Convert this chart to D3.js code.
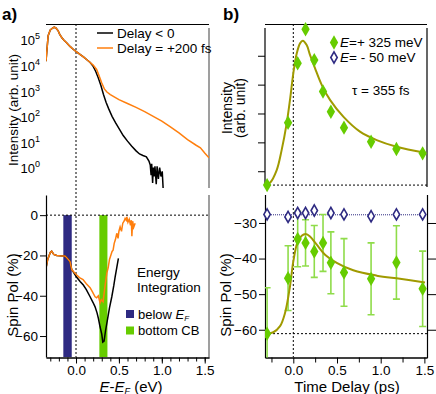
<!DOCTYPE html>
<html>
<head>
<meta charset="utf-8">
<script src="https://cdn.jsdelivr.net/npm/d3@7"></script>
<style>
  body { margin: 0; background: #fff; }
  svg { display: block; font-family: "Liberation Sans", Arial, sans-serif; }
</style>
</head>
<body>
<div id="chart"></div>
<script>
// ---- panel a) top: intensity (log10 of counts) vs E-EF (eV)
const energyNeg = [-0.35, -0.34, -0.325, -0.3, -0.28, -0.255, -0.235, -0.21, -0.19, -0.165, -0.14, -0.11, -0.07, -0.03, 0.01, 0.05, 0.09, 0.13, 0.165,
  0.2, 0.23, 0.26, 0.29, 0.32, 0.35, 0.38, 0.42, 0.46, 0.5, 0.55, 0.6, 0.65, 0.7, 0.74, 0.78, 0.82, 0.85,
  0.865, 0.875, 0.882, 0.893, 0.9, 0.91, 0.92, 0.935, 0.945, 0.96, 0.975, 0.99, 1.005, 1.015];
const logIntNeg = [4.2, 4.6, 5.2, 5.42, 5.48, 5.53, 5.5, 5.4, 5.25, 5.12, 5.02, 4.92, 4.78, 4.66, 4.56, 4.46, 4.36, 4.25, 4.15,
  4.0, 3.8, 3.55, 3.25, 2.9, 2.6, 2.35, 2.05, 1.8, 1.58, 1.3, 1.08, 0.88, 0.7, 0.58, 0.52, 0.47, 0.3,
  0.15, -0.25, 0.2, -0.55, 0.05, -0.3, 0.1, -0.6, 0.1, -0.4, 0.05, -0.3, -0.1, -0.75];
const energyPos = [-0.35, -0.34, -0.325, -0.3, -0.28, -0.255, -0.235, -0.21, -0.19, -0.165, -0.14, -0.11, -0.07, -0.03, 0.01, 0.05, 0.09, 0.13, 0.165,
  0.2, 0.24, 0.27, 0.3, 0.33, 0.36, 0.4, 0.45, 0.5, 0.6, 0.7, 0.8, 0.9, 1.0, 1.1, 1.2, 1.3, 1.4, 1.45, 1.5, 1.55];
const logIntPos = [4.2, 4.6, 5.2, 5.42, 5.48, 5.53, 5.5, 5.4, 5.25, 5.12, 5.02, 4.92, 4.78, 4.66, 4.56, 4.46, 4.36, 4.25, 4.15,
  4.05, 3.88, 3.62, 3.35, 3.12, 3.0, 2.9, 2.8, 2.7, 2.55, 2.4, 2.23, 2.05, 1.86, 1.64, 1.4, 1.14, 0.92, 0.82, 0.62, 0.43];

// ---- panel a) bottom: spin polarization (%) vs E-EF
const energySpinNeg = [-0.35, -0.33, -0.3, -0.284, -0.26, -0.225, -0.19, -0.16, -0.128, -0.1, -0.07, -0.05, -0.02, 0.008, 0.05, 0.085, 0.12, 0.164,
  0.2, 0.222, 0.245, 0.261, 0.28, 0.3, 0.312, 0.327, 0.345, 0.359, 0.39, 0.417, 0.44, 0.456, 0.475, 0.494];
const spinNeg = [-26.3, -22, -18.5, -17.9, -19.5, -20, -20.2, -20.3, -20.3, -21.5, -23, -27, -29, -30.8, -33, -34.7, -37, -40.5,
  -43.5, -45.5, -48.5, -51.3, -55.4, -59, -63, -62.5, -57, -53.7, -46, -40.5, -35, -30.6, -26, -21.5];
const energySpinPos = [-0.35, -0.33, -0.3, -0.284, -0.26, -0.225, -0.19, -0.16, -0.128, -0.1, -0.07, -0.05, -0.02, 0.008, 0.04, 0.082, 0.12, 0.164,
  0.19, 0.222, 0.24, 0.26, 0.28, 0.295, 0.315, 0.33, 0.345, 0.359, 0.375, 0.39, 0.405, 0.42, 0.432, 0.445, 0.46, 0.475, 0.49, 0.5,
  0.514, 0.53, 0.545, 0.56, 0.572, 0.585, 0.592, 0.605, 0.62, 0.635, 0.645, 0.651, 0.66, 0.672, 0.689];
const spinPos = [-26.3, -22, -18.5, -17.9, -19.5, -20, -20.2, -20.3, -20.3, -21.5, -23, -27, -28.5, -29.7, -31, -32, -34, -36,
  -38, -40.5, -41, -40, -43.5, -42, -43, -38, -33, -28.8, -26, -22, -20, -18, -17.4, -14, -12, -9, -11.5, -8,
  -5.8, -8, -4, -3, -1.6, -2.5, -0.8, -3.5, -2, -5, -2.5, -10.5, -3, -6, -4];
// energy integration windows (eV)
const bandBelowEF = [-0.148, -0.05];
const bandBottomCB = [0.272, 0.366];

// ---- panel b): time delay (ps)
const delayCB = [-0.30, -0.06, 0.05, 0.14, 0.24, 0.34, 0.43, 0.58, 0.89, 1.18, 1.48];
const intensityCB = [0.52, 2.68, 4.74, 5.92, 4.85, 3.76, 3.06, 2.51, 2.02, 1.77, 1.62];
const spinCB = [-61.1, -45.5, -34.5, -35.6, -38.0, -35.6, -41.2, -43.9, -45.7, -41.1, -48.5];
const spinCBErr = [12.9, 9.1, 7.8, 6.5, 7.3, 8.0, 8.7, 9.5, 10.1, 10.3, 10.6];
const delayVB = [-0.30, -0.06, 0.05, 0.14, 0.24, 0.43, 0.58, 0.89, 1.18, 1.48];
const spinVB = [-27.6, -28.3, -27.2, -27.2, -26.5, -27.2, -27.6, -28.1, -27.6, -27.6];
const spinVBLevel = -27.7;
const fitDelay = [-0.324, -0.267, -0.19, -0.133, -0.076, -0.038, 0, 0.039, 0.077, 0.108, 0.153, 0.191, 0.248, 0.325, 0.42, 0.572, 0.763, 0.954, 1.183, 1.507];
const fitIntensity = [0.52, 0.60, 1.04, 1.74, 2.66, 3.47, 4.39, 5.08, 5.43, 5.52, 5.37, 5.03, 4.57, 3.99, 3.47, 2.89, 2.37, 2.08, 1.85, 1.64];
const fitSpinDelay = [-0.324, -0.229, -0.152, -0.095, -0.038, 0, 0.046, 0.096, 0.142, 0.191, 0.268, 0.363, 0.497, 0.686, 0.954, 1.221, 1.507];
const fitSpin = [-61.1, -60.7, -59.0, -55.3, -47.8, -40.8, -35.6, -33.6, -33.1, -33.8, -36.1, -38.9, -41.2, -43.3, -44.8, -45.7, -46.7];
const intensityBase = 0.52;
const spinBase = -61.1;

// ---- tick values
const energyTicks = [0, 0.5, 1.0, 1.5];
const logTicks = [0, 1, 2, 3, 4, 5];
const spinTicksA = [0, -20, -40, -60];
const delayTicks = [0, 0.5, 1.0, 1.5];
const delayMinor = [-0.25, 0.25, 0.75, 1.25];
const intensityTicks = [1, 2, 3, 4, 5];
const spinTicksB = [-30, -40, -50, -60];

const W = 436, H = 394;
const C = {
  orange: "#ff7f0e", navy: "#2e2a82", green: "#66cc00", olive: "#a09a00",
  errGreen: "#8fdc4a", grey: "#7f7f7f"
};
const fontTick = 13.5, fontLabel = 15, fontLegend = 13.5;

const svg = d3.select("#chart").append("svg").attr("width", W).attr("height", H);

// Scales
const xE = d3.scaleLinear().domain([-0.35, 1.55]).range([46, 209]);
const yLog = d3.scaleLog().domain([Math.pow(10, -0.75), Math.pow(10, 5.55)]).range([188, 26.7]);
const ySpinA = d3.scaleLinear().domain([-70.4, 10]).range([357, 195]);
const xT = d3.scaleLinear().domain([-0.324, 1.53]).range([265, 427]);
const yInt = d3.scaleLinear().domain([0.35, 6.1]).range([190, 24]);
const ySpinB = d3.scaleLinear().domain([-67.8, -22]).range([357.5, 194.5]);

function hline(g, x1, x2, y, stroke, dash, w) {
  g.append("line").attr("x1", x1).attr("x2", x2).attr("y1", y).attr("y2", y)
    .attr("stroke", stroke).attr("stroke-width", w || 1).attr("stroke-dasharray", dash || null);
}
function vline(g, x, y1, y2, stroke, dash, w) {
  g.append("line").attr("x1", x).attr("x2", x).attr("y1", y1).attr("y2", y2)
    .attr("stroke", stroke).attr("stroke-width", w || 1).attr("stroke-dasharray", dash || null);
}
function styleAxis(sel) {
  sel.selectAll("text").attr("font-size", fontTick).attr("fill", "#000")
    .style("font-family", '"Liberation Sans", Arial, sans-serif');
  sel.selectAll("line").attr("stroke", "#000");
  sel.select(".domain").attr("stroke", "#000");
}

// Clip paths
const defs = svg.append("defs");
defs.append("clipPath").attr("id", "clipAT").append("rect").attr("x", 46).attr("y", 24).attr("width", 163).attr("height", 164);
defs.append("clipPath").attr("id", "clipAB").append("rect").attr("x", 46).attr("y", 195).attr("width", 163).attr("height", 162);
defs.append("clipPath").attr("id", "clipBB").append("rect").attr("x", 265).attr("y", 194.5).attr("width", 162).attr("height", 163);

// ================= Panel a) =================
const pa = svg.append("g");

// frame lines
hline(pa, 46, 209, 24.5, "#000", null, 1.2);
vline(pa, 209, 28, 188, C.grey, null, 1.5);
vline(pa, 209, 195, 357.5, C.grey, null, 1.5);
vline(pa, 76, 24, 357, "#000", "2,2", 1);

// top: log intensity
const lineTop = d3.line().x((d) => xE(d[0])).y((d) => yLog(Math.pow(10, d[1])));
const gTop = pa.append("g").attr("clip-path", "url(#clipAT)");
gTop.append("path").datum(d3.zip(energyNeg, logIntNeg)).attr("d", lineTop)
  .attr("fill", "none").attr("stroke", "#000").attr("stroke-width", 1.5);
gTop.append("path").datum(d3.zip(energyPos, logIntPos)).attr("d", lineTop)
  .attr("fill", "none").attr("stroke", C.orange).attr("stroke-width", 1.5);

logTicks.forEach((p) => {
  const t = pa.append("text").attr("x", 40).attr("y", yLog(Math.pow(10, p)))
    .attr("dy", "0.35em").attr("text-anchor", "end").attr("font-size", 13);
  t.append("tspan").text("10");
  t.append("tspan").attr("font-size", 9).attr("dy", -6).text(p);
});
pa.append("text").attr("transform", "translate(13,110) rotate(-90)")
  .attr("text-anchor", "middle").attr("dy", "0.35em").attr("font-size", fontLabel - 1.5)
  .text("Intensity (arb. unit)");

// legend top-left
const legA = [{ label: "Delay < 0", color: "#000" }, { label: "Delay = +200 fs", color: C.orange }];
legA.forEach((d, i) => {
  const y = 33 + i * 15;
  hline(pa, 97, 113, y, d.color, null, 1.5);
  pa.append("text").attr("x", 117).attr("y", y).attr("dy", "0.35em")
    .attr("font-size", fontLegend).text(d.label);
});

// bottom: spin polarization
const gBot = pa.append("g").attr("clip-path", "url(#clipAB)");
[[bandBelowEF, C.navy], [bandBottomCB, C.green]].forEach(([b, col]) => {
  gBot.append("rect").attr("x", xE(b[0])).attr("width", xE(b[1]) - xE(b[0]))
    .attr("y", ySpinA(0)).attr("height", ySpinA(-70.4) - ySpinA(0)).attr("fill", col);
});
hline(pa, 46, 209, ySpinA(0), "#000", "2,2", 1);
const lineSpinA = d3.line().x((d) => xE(d[0])).y((d) => ySpinA(d[1]));
gBot.append("path").datum(d3.zip(energySpinNeg, spinNeg)).attr("d", lineSpinA)
  .attr("fill", "none").attr("stroke", "#000").attr("stroke-width", 1.5);
gBot.append("path").datum(d3.zip(energySpinPos, spinPos)).attr("d", lineSpinA)
  .attr("fill", "none").attr("stroke", C.orange).attr("stroke-width", 1.5);

const axSpinA = pa.append("g").attr("transform", "translate(46,0)")
  .call(d3.axisLeft(ySpinA).tickValues(spinTicksA).tickSize(6).tickPadding(2).tickSizeOuter(0));
styleAxis(axSpinA);
axSpinA.select(".domain").attr("stroke-width", 1.2);

const axEMinor = pa.append("g").attr("transform", "translate(0,357.5)")
  .call(d3.axisBottom(xE).tickValues(d3.range(-3, 16).map((i) => i / 10)).tickSize(4).tickFormat("").tickSizeOuter(0));
styleAxis(axEMinor);
const axE = pa.append("g").attr("transform", "translate(0,357.5)")
  .call(d3.axisBottom(xE).tickValues(energyTicks).tickSize(6).tickPadding(2).tickFormat(d3.format(".1f")).tickSizeOuter(0));
styleAxis(axE);
axE.select(".domain").attr("stroke-width", 1.2);

const xl = pa.append("text").attr("x", 131).attr("y", 391.5).attr("text-anchor", "middle").attr("font-size", fontLabel);
xl.append("tspan").attr("font-style", "italic").text("E");
xl.append("tspan").text("-");
xl.append("tspan").attr("font-style", "italic").text("E");
xl.append("tspan").attr("font-style", "italic").attr("font-size", 9).attr("dy", 2).text("F");
xl.append("tspan").attr("dy", -2).text(" (eV)");

pa.append("text").attr("transform", "translate(13,295) rotate(-90)")
  .attr("text-anchor", "middle").attr("dy", "0.35em").attr("font-size", fontLabel).text("Spin Pol (%)");

// energy integration legend
pa.append("text").attr("x", 137).attr("y", 272).attr("dy", "0.35em").attr("font-size", fontLegend).text("Energy");
pa.append("text").attr("x", 137).attr("y", 287).attr("dy", "0.35em").attr("font-size", fontLegend).text("Integration");
[{ c: C.navy, y: 314, label: "below " }, { c: C.green, y: 330.5, label: "bottom CB" }].forEach((d, i) => {
  pa.append("rect").attr("x", 126).attr("y", d.y - 4).attr("width", 8).attr("height", 8).attr("fill", d.c);
  const t = pa.append("text").attr("x", 138).attr("y", d.y).attr("dy", "0.35em").attr("font-size", 13).text(d.label);
  if (i === 0) {
    t.append("tspan").attr("font-style", "italic").text("E");
    t.append("tspan").attr("font-style", "italic").attr("font-size", 8).attr("dy", 2).text("F");
  }
});

pa.append("text").attr("x", 2).attr("y", 20).attr("font-size", 17).attr("font-weight", "bold").text("a)");

// ================= Panel b) =================
const pb = svg.append("g");
hline(pb, 265, 427, 24.5, "#000", null, 1.2);
vline(pb, 427, 28, 187, "#000", null, 1.2);
vline(pb, xT(0), 24, 357, "#000", "2,2", 1);

// top: intensity
const axInt = pb.append("g").attr("transform", "translate(265,0)")
  .call(d3.axisLeft(yInt).tickValues(intensityTicks).tickSize(7).tickFormat("").tickSizeOuter(0));
styleAxis(axInt);
axInt.select(".domain").attr("d", "M0,28V187").attr("stroke-width", 1.2);
hline(pb, 265, 427, yInt(intensityBase), "#000", "2,2", 1);

const fitLineTop = d3.line().x((d) => xT(d[0])).y((d) => yInt(d[1])).curve(d3.curveCatmullRom);
pb.append("path").datum(d3.zip(fitDelay, fitIntensity)).attr("d", fitLineTop)
  .attr("fill", "none").attr("stroke", C.olive).attr("stroke-width", 2);

const diamond = d3.symbol().type(d3.symbolDiamond).size(60);
const diamondOpen = d3.symbol().type(d3.symbolDiamond).size(36);
pb.append("g").selectAll("path").data(d3.zip(delayCB, intensityCB)).join("path")
  .attr("transform", (d) => `translate(${xT(d[0])},${yInt(d[1])})`)
  .attr("d", diamond).attr("fill", C.green);

pb.append("text").attr("transform", "translate(227,108) rotate(-90)")
  .attr("text-anchor", "middle").attr("dy", "0.35em").attr("font-size", fontLabel - 1).text("Intensity");
pb.append("text").attr("transform", "translate(240,108) rotate(-90)")
  .attr("text-anchor", "middle").attr("dy", "0.35em").attr("font-size", fontLabel - 1).text("(arb. unit)");

// legend top-right
pb.append("path").attr("transform", "translate(334,42.5)").attr("d", diamond).attr("fill", C.green);
pb.append("path").attr("transform", "translate(334,57.5)").attr("d", diamondOpen)
  .attr("fill", "#fff").attr("stroke", C.navy).attr("stroke-width", 1.6);
[{ y: 42.5, s: "=+ 325 meV" }, { y: 57.5, s: "= - 50 meV" }].forEach((d) => {
  const t = pb.append("text").attr("x", 340).attr("y", d.y).attr("dy", "0.35em").attr("font-size", fontLegend);
  t.append("tspan").attr("font-style", "italic").text("E");
  t.append("tspan").text(d.s);
});
pb.append("text").attr("x", 352).attr("y", 90).attr("dy", "0.35em").attr("font-size", fontLegend).text("\u03c4 = 355 fs");

// bottom: spin polarization vs delay
const axSpinB = pb.append("g").attr("transform", "translate(265,0)")
  .call(d3.axisLeft(ySpinB).tickValues(spinTicksB).tickSize(6).tickPadding(2).tickSizeOuter(0));
styleAxis(axSpinB);
axSpinB.select(".domain").attr("stroke-width", 1.2);
const axSpinBR = pb.append("g").attr("transform", "translate(427,0)")
  .call(d3.axisRight(ySpinB).tickValues(spinTicksB).tickSize(9).tickFormat("").tickSizeOuter(0));
styleAxis(axSpinBR);
axSpinBR.select(".domain").attr("stroke-width", 1.2);

const axTMinor = pb.append("g").attr("transform", "translate(0,357.5)")
  .call(d3.axisBottom(xT).tickValues(delayMinor).tickSize(5).tickFormat("").tickSizeOuter(0));
styleAxis(axTMinor);
const axT = pb.append("g").attr("transform", "translate(0,357.5)")
  .call(d3.axisBottom(xT).tickValues(delayTicks).tickSize(6).tickPadding(2).tickFormat(d3.format(".1f")).tickSizeOuter(0));
styleAxis(axT);
axT.select(".domain").attr("stroke-width", 1.2);

hline(pb, 265, 427, ySpinB(spinBase), "#000", "2,2", 1);

const gBB = pb.append("g").attr("clip-path", "url(#clipBB)");
// valence band reference (dotted) and markers
hline(gBB, 265, 427, ySpinB(spinVBLevel), C.navy, "1,1", 1);
// error bars
const errG = gBB.append("g").attr("stroke", C.errGreen).attr("stroke-width", 1.6);
delayCB.forEach((t, i) => {
  const x = xT(t), y1 = ySpinB(spinCB[i] + spinCBErr[i]), y2 = ySpinB(spinCB[i] - spinCBErr[i]);
  errG.append("line").attr("x1", x).attr("x2", x).attr("y1", y1).attr("y2", y2);
  errG.append("line").attr("x1", x - 3.5).attr("x2", x + 3.5).attr("y1", y1).attr("y2", y1);
  errG.append("line").attr("x1", x - 3.5).attr("x2", x + 3.5).attr("y1", y2).attr("y2", y2);
});
const fitLineBot = d3.line().x((d) => xT(d[0])).y((d) => ySpinB(d[1])).curve(d3.curveCatmullRom);
gBB.append("path").datum(d3.zip(fitSpinDelay, fitSpin)).attr("d", fitLineBot)
  .attr("fill", "none").attr("stroke", C.olive).attr("stroke-width", 2);
gBB.append("g").selectAll("path").data(d3.zip(delayCB, spinCB)).join("path")
  .attr("transform", (d) => `translate(${xT(d[0])},${ySpinB(d[1])})`)
  .attr("d", diamond).attr("fill", C.green);
pb.append("g").selectAll("path").data(d3.zip(delayVB, spinVB)).join("path")
  .attr("transform", (d) => `translate(${xT(d[0])},${ySpinB(d[1])})`)
  .attr("d", diamondOpen).attr("fill", "#fff").attr("stroke", C.navy).attr("stroke-width", 1.6);

pb.append("text").attr("transform", "translate(226,295) rotate(-90)")
  .attr("text-anchor", "middle").attr("dy", "0.35em").attr("font-size", fontLabel).text("Spin Pol (%)");
pb.append("text").attr("x", 347).attr("y", 392).attr("text-anchor", "middle").attr("font-size", fontLabel).text("Time Delay (ps)");

pb.append("text").attr("x", 223).attr("y", 20).attr("font-size", 17).attr("font-weight", "bold").text("b)");
</script>
</body>
</html>
